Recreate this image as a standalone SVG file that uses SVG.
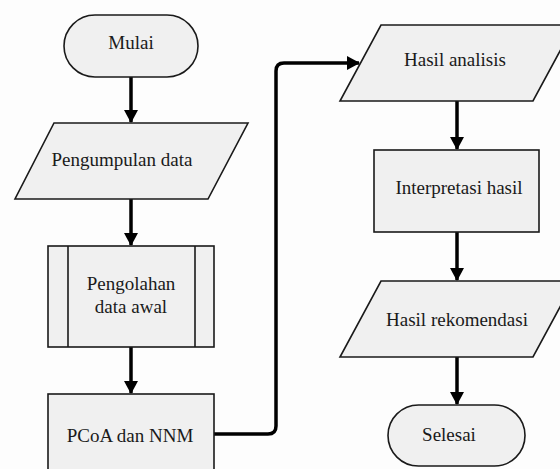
<svg xmlns="http://www.w3.org/2000/svg" width="560" height="469" viewBox="0 0 560 469">
<style>
.s{fill:#f0f0f0;stroke:#1a1a1a;stroke-width:1.6}
.t{font-size:19px;fill:#1a1a1a;text-anchor:middle}
.c{fill:none;stroke:#000;stroke-width:3.5;marker-end:url(#ah)}
</style>
<defs>
<marker id="ah" markerUnits="userSpaceOnUse" markerWidth="14" markerHeight="14" refX="12" refY="7" orient="auto" viewBox="0 0 14 14">
<path d="M0,0 L13,7 L0,14 z" fill="#000"/>
</marker>
</defs>
<rect width="560" height="469" fill="#fdfdfd"/>
<g id="connectors">
<path class="c" d="M131,77 V122"/>
<path class="c" d="M131,199 V245"/>
<path class="c" d="M131,347 V393"/>
<path class="c" d="M214,434 H268 Q276,434 276,426 V71 Q276,63 284,63 H359"/>
<path class="c" d="M457,101 V149"/>
<path class="c" d="M457,232 V280"/>
<path class="c" d="M457,357 V404"/>
</g>
<g font-family="'Liberation Serif', 'Times New Roman', Tinos, 'DejaVu Serif', serif">
<g id="mulai">
<rect class="s" x="64" y="15" width="134" height="62" rx="31"/>
<text class="t" x="131" y="49">Mulai</text>
</g>
<g id="pengumpulan">
<polygon class="s" points="54,123 248,123 208,199 15,199"/>
<text class="t" x="122" y="166">Pengumpulan data</text>
</g>
<g id="pengolahan">
<rect class="s" x="48" y="246" width="166" height="101"/>
<line class="s" x1="68" y1="246" x2="68" y2="347"/>
<line class="s" x1="195" y1="246" x2="195" y2="347"/>
<text class="t" x="131" y="290">Pengolahan</text>
<text class="t" x="131" y="313">data awal</text>
</g>
<g id="pcoa">
<rect class="s" x="48" y="394" width="166" height="82"/>
<text class="t" x="130" y="442">PCoA dan NNM</text>
</g>
<g id="hasil-analisis">
<polygon class="s" points="381,25 574,25 533,101 340,101"/>
<text class="t" x="455" y="66">Hasil analisis</text>
</g>
<g id="interpretasi">
<rect class="s" x="374" y="150" width="165" height="82"/>
<text class="t" x="459" y="194">Interpretasi hasil</text>
</g>
<g id="hasil-rekomendasi">
<polygon class="s" points="381,281 574,281 533,357 340,357"/>
<text class="t" x="457" y="326">Hasil rekomendasi</text>
</g>
<g id="selesai">
<rect class="s" x="388" y="405" width="137" height="61" rx="30.5"/>
<text class="t" x="449" y="441">Selesai</text>
</g>
</g>
</svg>
